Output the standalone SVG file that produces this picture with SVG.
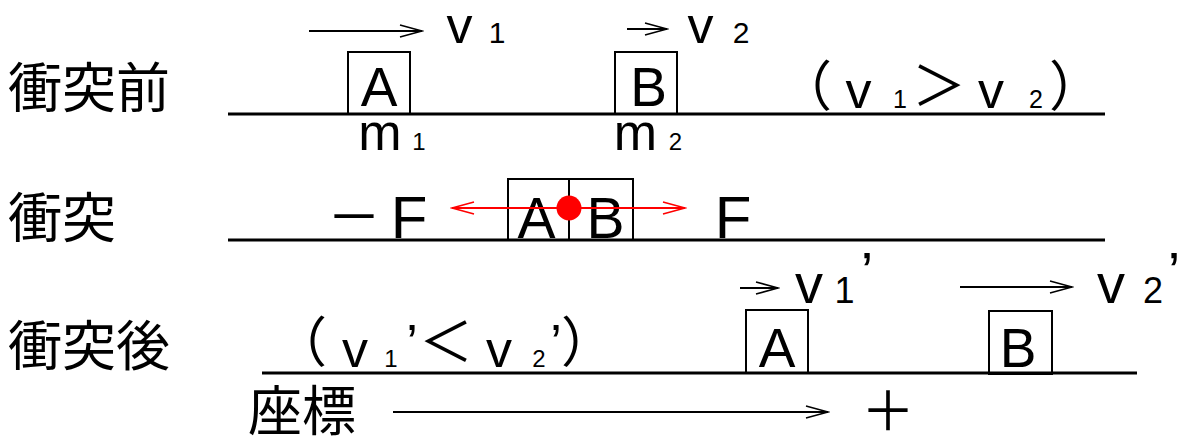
<svg xmlns="http://www.w3.org/2000/svg" width="1188" height="438" viewBox="0 0 1188 438">
<style>
.jp{font-family:"Noto Sans CJK JP","Noto Sans CJK SC",sans-serif;font-size:54px;fill:#000}
.lt{font-family:"Liberation Sans",Arial,sans-serif;fill:#000}
.big{font-size:55px}
.v{font-size:52px}
.sub{font-size:30px}
.box{fill:none;stroke:#000;stroke-width:2}
.ground{stroke:#000;stroke-width:3}
.arr{stroke:#000;stroke-width:2;fill:none;marker-end:url(#ah)}
.red{stroke:#f00;stroke-width:2;fill:none;marker-end:url(#rh);marker-start:url(#rh)}
</style>
<defs>
<marker id="ah" markerUnits="userSpaceOnUse" markerWidth="26" markerHeight="16" viewBox="-2 -2 26 16" refX="22" refY="6" orient="auto">
<path d="M0,0 L22,6 L0,12" fill="none" stroke="#000" stroke-width="1.6"/>
</marker>
<marker id="rh" markerUnits="userSpaceOnUse" markerWidth="26" markerHeight="16" viewBox="-2 -2 26 16" refX="22" refY="6" orient="auto-start-reverse">
<path d="M0,0 L22,6 L0,12" fill="none" stroke="#f00" stroke-width="1.6"/>
</marker>
</defs>
<rect width="1188" height="438" fill="#fff"/>

<g id="labels">
<text class="jp" x="8" y="108">衝突前</text>
<text class="jp" x="8" y="238">衝突</text>
<text class="jp" x="8" y="366">衝突後</text>
<text class="jp" x="248" y="431">座標</text>
</g>

<g id="grounds">
<line class="ground" x1="228" y1="114" x2="1105" y2="114"/>
<line class="ground" x1="228" y1="240" x2="1105" y2="240"/>
<line class="ground" x1="262" y1="373" x2="1137" y2="373"/>
</g>

<g id="before">
<g id="before-A">
<rect class="box" x="348" y="52" width="62" height="62"/>
<text class="lt big" x="379" y="106" text-anchor="middle">A</text>
<text class="lt v" x="380" y="150" text-anchor="middle">m</text>
<text class="lt" font-size="24" x="419" y="150" text-anchor="middle">1</text>
<text class="lt v" x="459.5" y="43" text-anchor="middle">v</text>
<text class="lt sub" x="497" y="43" text-anchor="middle">1</text>
</g>
<g id="before-B">
<rect class="box" x="615" y="52" width="62" height="62"/>
<text class="lt big" x="648.5" y="106" text-anchor="middle">B</text>
<text class="lt v" x="635.5" y="150" text-anchor="middle">m</text>
<text class="lt" font-size="24" x="675.5" y="150" text-anchor="middle">2</text>
<text class="lt v" x="700.5" y="43" text-anchor="middle">v</text>
<text class="lt sub" x="741" y="43" text-anchor="middle">2</text>
</g>
<g id="before-cond">
<text class="jp" x="805" y="106" text-anchor="middle">（</text>
<text class="lt v" x="858.5" y="108" text-anchor="middle">v</text>
<text class="lt" font-size="25" x="900" y="108" text-anchor="middle">1</text>
<text class="jp" x="939" y="106" text-anchor="middle">＞</text>
<text class="lt v" x="991" y="108" text-anchor="middle">v</text>
<text class="lt" font-size="25" x="1036" y="108" text-anchor="middle">2</text>
<text class="jp" x="1076" y="106" text-anchor="middle">）</text>
</g>
</g>

<g id="collision">
<g id="col-A">
<rect class="box" x="508" y="179" width="61" height="61"/>
<text class="lt" font-size="57" x="536.5" y="238" text-anchor="middle">A</text>
</g>
<g id="col-B">
<rect class="box" x="569" y="179" width="64" height="61"/>
<text class="lt" font-size="57" x="605.5" y="238" text-anchor="middle">B</text>
</g>
<g id="col-forces">
<text class="jp" x="354" y="237" text-anchor="middle">－</text>
<text class="lt" font-size="60" x="409" y="238" text-anchor="middle">F</text>
<text class="lt" font-size="60" x="733" y="238" text-anchor="middle">F</text>
</g>
</g>

<g id="after">
<g id="after-cond">
<text class="jp" x="300" y="362" text-anchor="middle">（</text>
<text class="lt v" x="355" y="367" text-anchor="middle">v</text>
<text class="lt" font-size="24" x="391" y="367" text-anchor="middle">1</text>
<text class="lt v" x="412" y="361" text-anchor="middle">’</text>
<text class="jp" x="446" y="362" text-anchor="middle">＜</text>
<text class="lt v" x="499" y="367" text-anchor="middle">v</text>
<text class="lt" font-size="24" x="539" y="367" text-anchor="middle">2</text>
<text class="lt v" x="556" y="361" text-anchor="middle">’</text>
<text class="jp" x="588" y="362" text-anchor="middle">）</text>
</g>
<g id="after-A">
<rect class="box" x="746" y="310" width="62" height="63"/>
<text class="lt big" x="777" y="367" text-anchor="middle">A</text>
<text class="lt" font-size="56" x="809" y="303" text-anchor="middle">v</text>
<text class="lt" font-size="36" x="844.5" y="303" text-anchor="middle">1</text>
<text class="lt" font-size="56" x="867" y="291" text-anchor="middle">’</text>
</g>
<g id="after-B">
<rect class="box" x="989" y="311" width="63" height="63"/>
<text class="lt big" x="1018" y="367" text-anchor="middle">B</text>
<text class="lt" font-size="56" x="1111" y="303" text-anchor="middle">v</text>
<text class="lt" font-size="36" x="1153" y="303" text-anchor="middle">2</text>
<text class="lt" font-size="56" x="1174" y="291" text-anchor="middle">’</text>
</g>
<g id="axis-plus">
<text class="jp" x="888" y="431" text-anchor="middle">＋</text>
</g>
</g>

<g id="connectors">
<line class="arr" x1="309" y1="31" x2="422" y2="31"/>
<line class="arr" x1="627" y1="29" x2="667" y2="29"/>
<line class="arr" x1="740" y1="288" x2="778" y2="288"/>
<line class="arr" x1="960" y1="287" x2="1072" y2="287"/>
<line class="arr" x1="393" y1="412" x2="828" y2="412"/>
<line class="red" x1="452" y1="208" x2="685" y2="208"/>
<circle cx="569" cy="208" r="12.5" fill="#f00"/>
</g>
</svg>
